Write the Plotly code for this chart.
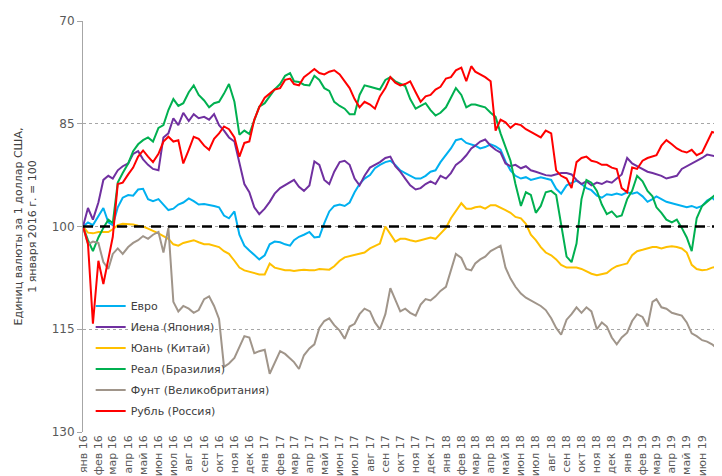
import plotly.graph_objects as go

# month labels on the x axis
month_names = ["янв", "фев", "мар", "апр", "май", "июн",
               "июл", "авг", "сен", "окт", "ноя", "дек"]
years = [2016, 2017, 2018, 2019]

# observation dates: 1st, 11th and 21st of every month, Jan 2016 - Jul 2019
dates = []
for y in years:
    for m in range(1, 13):
        if y == 2019 and m > 6:
            break
        for d in (1, 11, 21):
            dates.append(f"{y}-{m:02d}-{d:02d}")
dates += ["2019-07-01", "2019-07-10"]

euro = [
    100.0, 99.4, 99.8, 98.4, 97.3, 99.4, 99.8, 97.2, 95.8, 95.4, 95.5, 94.6,
    94.5, 96.0, 96.3, 96.0, 96.8, 97.6, 97.4, 96.8, 96.5, 95.9, 96.3, 96.8,
    96.7, 96.8, 97.0, 97.2, 98.4, 98.8, 97.8, 101.2, 102.8, 103.5, 104.2, 104.8,
    104.2, 102.6, 102.2, 102.3, 102.6, 102.8, 102.0, 101.5, 101.2, 100.8, 101.6, 101.5,
    99.5, 97.8, 97.0, 96.8, 97.0, 96.5, 95.0, 93.8, 93.0, 92.5, 91.5, 91.0,
    90.6, 90.4, 91.0, 91.8, 92.2, 92.6, 93.0, 93.0, 92.6, 92.0, 91.8, 90.6,
    89.6, 88.6, 87.4, 87.2, 87.8, 88.0, 88.2, 88.6, 88.4, 88.0, 88.3, 88.8,
    90.5, 91.8, 92.6, 93.0, 92.8, 93.2, 93.0, 92.8, 93.0, 93.2, 94.5, 95.2,
    94.0, 93.6, 93.3, 93.8, 94.4, 94.7, 95.5, 95.8, 95.3, 95.4, 95.2, 95.4,
    95.0, 95.2, 95.0, 95.6, 96.4, 96.0, 95.6, 96.0, 96.4, 96.6, 96.8, 97.0,
    97.2, 97.0, 97.3, 97.0, 96.2, 95.8, 96.4, 96.5,
]
yen = [
    100.0, 97.3, 99.0, 96.5, 93.2, 92.6, 93.0, 91.8, 91.2, 90.8, 89.4, 89.0,
    90.2, 91.0, 91.6, 91.8, 87.0, 86.4, 84.2, 85.2, 83.4, 84.6, 83.6, 84.2,
    84.0, 84.4, 83.6, 85.2, 86.0, 87.0, 87.6, 90.8, 93.8, 95.0, 97.2, 98.2,
    97.4, 96.4, 95.2, 94.4, 94.0, 93.6, 93.2, 94.2, 94.8, 94.0, 90.5, 91.0,
    93.2, 93.8, 92.0, 90.6, 90.4, 91.0, 93.0, 94.0, 92.6, 91.4, 91.0, 90.6,
    90.0, 89.8, 91.2, 92.0, 93.0, 94.0, 94.6, 94.4, 93.8, 93.4, 93.8, 92.6,
    93.0, 92.2, 91.0, 90.4, 89.6, 88.6, 88.2, 87.6, 87.3, 88.2, 88.8, 89.2,
    90.8, 91.2, 91.0, 91.5, 91.2, 91.8, 92.0, 92.2, 92.5, 92.6, 92.4, 92.2,
    92.2, 92.4, 93.2, 93.8, 93.4, 94.0, 93.6, 93.8, 93.4, 93.6, 93.0, 92.4,
    90.0, 90.8, 91.2, 91.6, 92.0, 92.2, 92.4, 92.6, 93.0, 92.8, 92.6, 91.6,
    91.2, 90.8, 90.5, 90.0, 89.5, 89.6, 89.8, 90.0,
]
yuan = [
    100.0, 100.9, 101.0, 100.8, 100.8, 100.8, 100.4, 99.8, 99.6, 99.6, 99.7, 99.9,
    100.0, 100.3, 100.6, 101.0, 101.4, 101.8, 102.6, 102.8, 102.4, 102.2, 102.0, 102.3,
    102.6, 102.6, 102.8, 103.0, 103.6, 104.0, 105.0, 106.0, 106.4, 106.6, 106.8, 107.0,
    107.0, 105.4, 106.0, 106.2, 106.4, 106.4, 106.5, 106.4, 106.3, 106.4, 106.4, 106.2,
    106.2, 106.3, 105.8, 105.0, 104.5, 104.3, 104.2, 104.0, 103.8, 103.2, 102.8, 102.5,
    100.0, 101.2, 102.2, 101.8, 101.8, 102.0, 102.2, 102.0, 101.8, 101.6, 101.8, 101.0,
    100.2, 98.8, 97.8, 96.6, 97.4, 97.4, 97.2, 97.1, 97.4, 96.9, 96.9, 97.2,
    97.6, 98.0, 98.6, 98.8, 99.6, 101.2, 102.0, 103.0, 103.8, 104.2, 104.8, 105.6,
    106.0, 106.0, 106.0, 106.2, 106.6, 106.9, 107.1, 107.0, 106.8, 106.2, 105.8, 105.6,
    105.4, 104.2, 103.6, 103.4, 103.2, 103.0, 103.0, 103.2, 103.0, 102.9, 103.0, 103.2,
    103.8, 105.6, 106.2, 106.4, 106.3, 106.0, 105.9, 105.9,
]
real = [
    100.0, 102.0, 103.6, 101.6, 100.2, 99.0, 99.5, 93.6, 92.2, 90.8, 89.0, 88.0,
    87.4, 87.0, 87.6, 85.6, 85.2, 83.0, 81.4, 82.4, 82.0, 80.4, 79.4, 80.8,
    81.6, 82.6, 82.0, 81.8, 80.6, 79.2, 81.8, 86.6, 86.0, 86.5, 84.5, 82.5,
    82.0, 81.0, 80.0, 79.2, 78.0, 77.6, 78.8, 78.9, 79.3, 79.4, 78.0, 78.6,
    79.8, 80.2, 81.8, 82.4, 82.8, 83.6, 83.6, 80.8, 79.4, 79.6, 79.8, 80.0,
    78.6, 78.2, 78.8, 79.2, 79.5, 81.4, 82.8, 82.4, 82.0, 83.0, 83.8, 83.4,
    82.6, 81.2, 79.8, 80.8, 82.6, 82.2, 82.2, 82.4, 82.6, 83.4, 84.0, 86.4,
    88.4, 90.4, 93.8, 97.0, 95.0, 95.4, 98.0, 97.0, 95.0, 94.8, 95.4, 99.6,
    104.4, 105.2, 102.5, 96.0, 93.2, 93.6, 94.8, 96.8, 98.2, 97.8, 98.6, 98.4,
    96.0, 94.8, 92.6, 93.4, 94.8, 95.6, 97.2, 98.0, 99.0, 99.4, 99.0, 100.2,
    101.6, 103.6, 98.8, 97.0, 96.4, 95.8, 95.2, 94.6,
]
pound = [
    100.0, 102.6, 102.2, 102.4, 105.2, 106.2, 104.0, 103.2, 104.0, 103.0, 102.4, 102.0,
    101.4, 101.8, 101.2, 100.8, 103.8, 100.2, 111.0, 112.4, 111.6, 112.0, 112.6, 112.2,
    110.6, 110.2, 111.6, 113.5, 120.5, 120.0, 119.2, 117.6, 116.0, 116.2, 118.5, 118.2,
    118.0, 121.5, 119.8, 118.2, 118.6, 119.2, 119.8, 120.8, 118.8, 117.8, 117.2, 114.8,
    113.8, 113.4, 114.4, 115.2, 116.4, 114.6, 114.2, 112.8, 112.0, 112.4, 114.0, 115.0,
    112.8, 109.0, 110.8, 112.4, 112.0, 112.6, 113.0, 111.4, 110.6, 110.8, 110.2, 109.4,
    108.8, 106.4, 104.0, 104.6, 106.2, 106.4, 105.4, 104.8, 104.4, 103.6, 103.2, 102.8,
    106.0, 107.6, 108.8, 109.8, 110.4, 110.8, 111.2, 111.6, 112.2, 113.4, 114.8, 115.8,
    113.6, 112.8, 111.8, 112.6, 111.8, 112.4, 115.0, 114.0, 114.6, 116.2, 117.2, 116.2,
    115.5, 113.8, 112.8, 113.2, 114.6, 111.0, 110.6, 111.8, 112.0, 112.6, 112.8, 113.0,
    114.0, 115.6, 116.0, 116.6, 116.8, 117.2, 117.8, 118.4,
]
ruble = [
    100.0, 102.5, 114.2, 105.0, 108.4, 104.6, 101.5, 93.8, 93.6, 92.4, 91.4, 89.8,
    88.9, 89.8, 90.6, 89.4, 87.6, 86.9, 87.6, 87.4, 90.8, 88.8, 86.9, 87.2,
    88.2, 88.8, 87.2, 86.4, 85.4, 85.8, 87.0, 89.8, 87.8, 87.6, 84.4, 82.6,
    81.2, 80.6, 80.0, 79.8, 78.6, 78.4, 79.2, 79.4, 78.2, 77.6, 77.0, 77.6,
    77.8, 77.4, 77.2, 77.8, 78.8, 79.8, 81.4, 82.6, 81.8, 82.2, 82.8, 81.0,
    79.8, 78.2, 79.0, 79.4, 79.2, 78.8, 80.4, 81.8, 81.0, 80.8, 80.0, 79.6,
    78.4, 78.2, 77.2, 76.8, 78.8, 76.6, 77.4, 77.8, 78.2, 78.8, 86.0, 84.4,
    84.8, 85.6, 85.0, 85.2, 85.8, 86.2, 86.6, 87.0, 86.0, 86.4, 91.8, 92.6,
    93.0, 94.4, 90.6, 90.0, 89.8, 90.4, 90.6, 91.0, 91.0, 91.4, 91.6, 94.4,
    95.0, 91.4, 91.6, 90.4, 90.0, 89.8, 89.6, 88.2, 87.4, 88.0, 88.6, 89.0,
    89.2, 88.8, 89.6, 89.2, 87.8, 86.2, 86.4, 85.9,
]

series = [
    ("Евро", euro, "#00B0F0"),
    ("Иена (Япония)", yen, "#7030A0"),
    ("Юань (Китай)", yuan, "#FFC000"),
    ("Реал (Бразилия)", real, "#00B050"),
    ("Фунт (Великобритания)", pound, "#A0958A"),
    ("Рубль (Россия)", ruble, "#FF0000"),
]

tick_dates = []
tick_text = []
for y in years:
    for m in range(1, 13):
        if y == 2019 and m > 7:
            break
        tick_dates.append(f"{y}-{m:02d}-01")
        tick_text.append(f"{month_names[m - 1]} {str(y)[2:]}")

fig = go.Figure()
for name, vals, color in series:
    fig.add_trace(go.Scatter(
        x=dates, y=vals, name=name, mode="lines",
        line=dict(color=color, width=2),
        legendgroup=name,
    ))

# reference level 100
fig.add_shape(type="line", xref="paper", x0=0, x1=1, y0=100, y1=100,
              line=dict(color="black", width=2.5, dash="10px,7px"), layer="above")

# the page body adds an 8px offset, so the figure is drawn 8px smaller
fig.update_layout(
    width=714, height=468,
    margin=dict(l=75, r=0, t=13, b=44),
    plot_bgcolor="white", paper_bgcolor="white",
    font=dict(family="DejaVu Sans", size=11, color="#595959"),
    legend=dict(
        x=0.012, y=0.342, xanchor="left", yanchor="top",
        bgcolor="rgba(0,0,0,0)", font=dict(size=11, color="#404040"),
        tracegroupgap=2,
    ),
)
fig.update_xaxes(
    type="date", range=["2016-01-01", "2019-07-11"],
    tickvals=tick_dates, ticktext=tick_text, tickangle=-90,
    showgrid=False, showline=False, zeroline=False, ticks="",
    tickfont=dict(size=11, color="#595959"), automargin=False,
)
fig.update_yaxes(
    range=[130, 70], tickvals=[70, 85, 100, 115, 130],
    showgrid=True, gridcolor="#A6A6A6", gridwidth=1, griddash="3px,3px",
    showline=True, linecolor="#A6A6A6", linewidth=1,
    ticks="outside", ticklen=5, tickcolor="#A6A6A6",
    zeroline=False, tickfont=dict(size=12, color="#595959"),
    title=dict(text="Единиц валюты за 1 доллар США,<br>1 января 2016 г. = 100",
               font=dict(size=11, color="#404040"), standoff=12),
    automargin=False,
)

fig.write_html("out.html")
